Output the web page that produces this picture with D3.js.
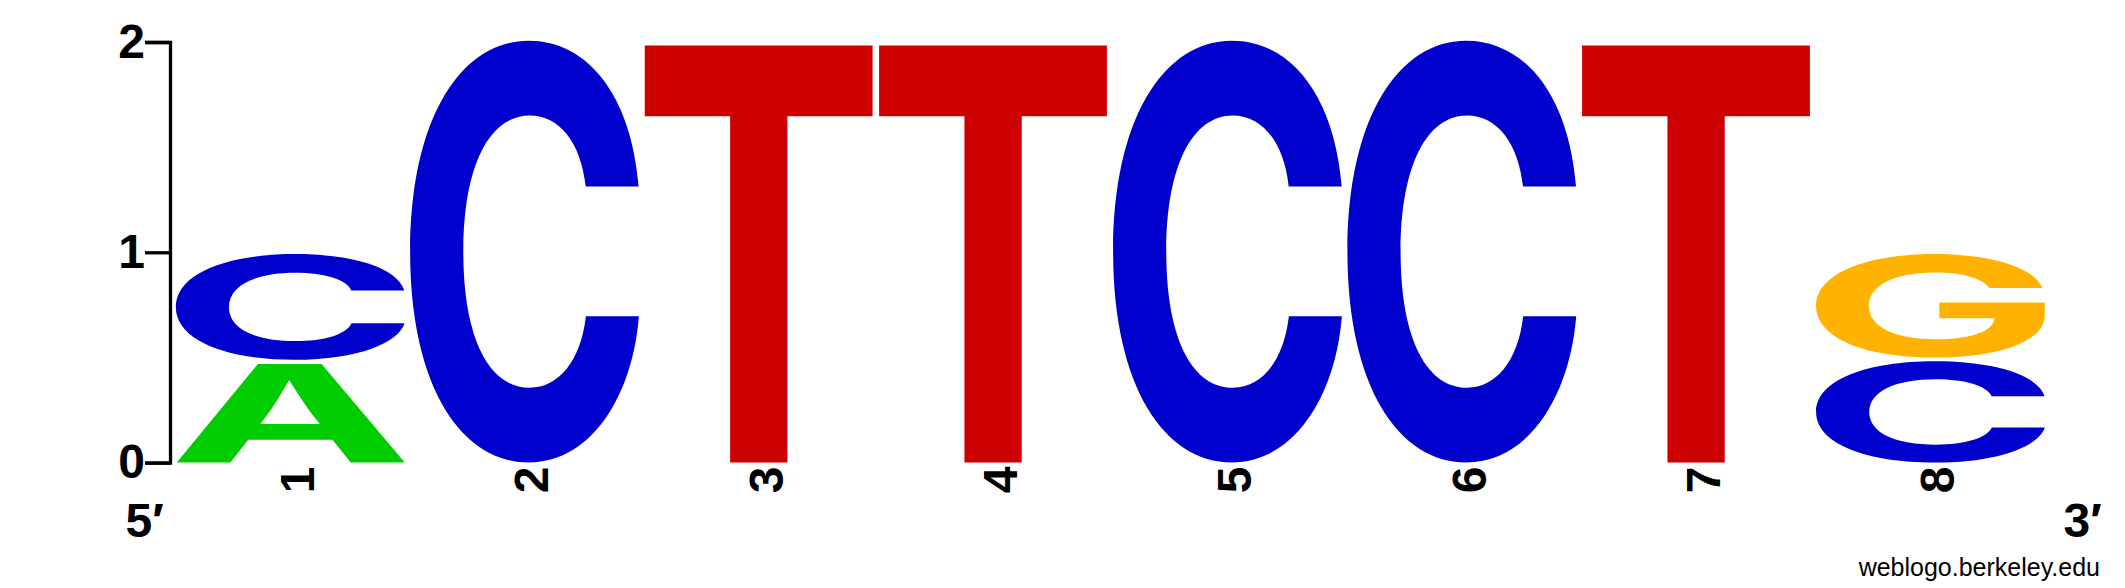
<!DOCTYPE html>
<html><head><meta charset="utf-8">
<script src="https://cdn.jsdelivr.net/npm/d3@7"></script>
<style>html,body{margin:0;padding:0;background:#fff;} svg{display:block}</style>
</head><body>
<script>
// ---- data ----
const positions = [1, 2, 3, 4, 5, 6, 7, 8];
// letters at each position, listed bottom to top
const stackLetters = [["A", "C"], ["C"], ["T"], ["T"], ["C"], ["C"], ["T"], ["C", "G"]];
// information (bits) of each letter, same order
const stackBits = [[0.47, 0.52], [2.0], [1.99], [1.99], [2.0], [2.0], [1.99], [0.48, 0.51]];
const yTicks = [0, 1, 2];
const letterColors = { A: "#00CC00", C: "#0000CC", G: "#FFB300", T: "#CC0000" };
const endLabels = ["5\u2032", "3\u2032"];
const creditText = "weblogo.berkeley.edu";

// ---- layout ----
const W = 2125, H = 588;
const FONT = "'Liberation Sans', Arial, Helvetica, sans-serif";
const GLYPH_FONT = "Inter, 'Liberation Sans', sans-serif";
const svg = d3.select("body").append("svg").attr("width", W).attr("height", H);

const x = d3.scaleBand().domain(positions).range([175.5, 2045.8]).paddingInner(0.0184).paddingOuter(0);
const y = d3.scaleLinear().domain([0, 2]).range([462.6, 42]);

// y axis (bracket style)
const axisG = svg.append("g").attr("transform", "translate(170,0)")
  .call(d3.axisLeft(y).tickValues(yTicks).tickSize(25).tickSizeOuter(25).tickPadding(0).tickFormat(d3.format("d")));
axisG.select(".domain").attr("stroke", "#000").attr("stroke-width", 3.3).attr("fill", "none");
axisG.selectAll(".tick line").attr("stroke", "#000").attr("stroke-width", 3.3);
axisG.selectAll(".tick text").attr("fill", "#000").style("font-family", FONT)
  .style("font-weight", "bold").style("font-size", "48px");
axisG.attr("font-size", null).attr("font-family", null);

// glyph ink measurement
const FS = 200;
const ctx = document.createElement("canvas").getContext("2d");
ctx.font = `bold ${FS}px ${GLYPH_FONT}`;
function ink(ch) {
  const m = ctx.measureText(ch);
  return { l: m.actualBoundingBoxLeft, r: m.actualBoundingBoxRight, a: m.actualBoundingBoxAscent, d: m.actualBoundingBoxDescent };
}

// build glyph records
const glyphs = [];
positions.forEach((p, i) => {
  let cum = 0;
  stackLetters[i].forEach((ch, j) => {
    const v = stackBits[i][j];
    glyphs.push({ pos: p, ch, lo: cum, hi: cum + v, idx: j });
    cum += v;
  });
});

const gap = 4;
svg.append("g").selectAll("text.glyph").data(glyphs).join("text")
  .attr("class", "glyph")
  .attr("font-family", GLYPH_FONT).attr("font-weight", "bold").attr("font-size", FS)
  .attr("fill", d => letterColors[d.ch])
  .attr("transform", d => {
    const m = ink(d.ch);
    const x0 = x(d.pos), w = x.bandwidth();
    const yTop = y(d.hi), yBot = y(d.lo) - (d.idx > 0 ? gap : 0);
    const sx = w / (m.l + m.r), sy = (yBot - yTop) / (m.a + m.d);
    return `translate(${x0},${yTop}) scale(${sx},${sy}) translate(${m.l},${m.a})`;
  })
  .text(d => d.ch);

// position labels (rotated)
svg.append("g").selectAll("text.pos").data(positions).join("text")
  .attr("class", "pos")
  .attr("font-family", FONT).attr("font-weight", "bold").attr("font-size", 48)
  .attr("text-anchor", "end")
  .attr("transform", d => `translate(${x(d) + x.bandwidth() / 2 + 23.5},466.5) rotate(-90)`)
  .text(d => d);

// 5' and 3'
svg.append("text").attr("x", 125.5).attr("y", 537)
  .attr("font-family", FONT).attr("font-weight", "bold").attr("font-size", 48).text(endLabels[0]);
svg.append("text").attr("x", 2063.5).attr("y", 537)
  .attr("font-family", FONT).attr("font-weight", "bold").attr("font-size", 48).text(endLabels[1]);

// credit
svg.append("text").attr("x", 2100).attr("y", 576).attr("text-anchor", "end")
  .attr("font-family", FONT).attr("font-size", 25).attr("fill", "#000").text(creditText);
</script>
</body></html>
